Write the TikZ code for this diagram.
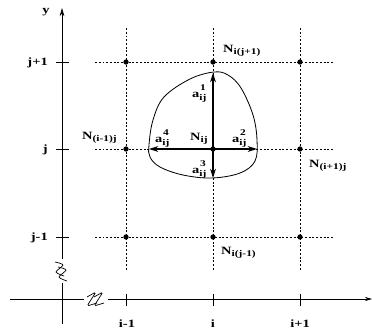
\documentclass[tikz,border=0pt]{standalone}
\usepackage{fontspec}
\setmainfont{Liberation Serif}[FakeStretch=1.3]
\usetikzlibrary{arrows.meta, positioning}
\newcommand{\Nlab}[1]{N\raisebox{-0.45ex}{\fontsize{7.5}{8}\selectfont #1}}
\newcommand{\alab}[1]{a\raisebox{-0.6ex}{\fontsize{7.5}{7}\selectfont\shortstack{#1\\ij}}}

\begin{document}
\begin{tikzpicture}[x=0.03cm, y=-0.03cm, >=Stealth,
    font=\fontsize{9.5}{10}\selectfont\bfseries,
    dot/.style={circle, fill, inner sep=0pt, minimum size=4.5pt},
    gridline/.style={dash pattern=on 1.6pt off 1.6pt, line width=0.6pt},
    axis/.style={line width=0.6pt},
    vec/.style={line width=0.9pt, -{Stealth[length=8pt, width=5pt]}},
    lbl/.style={inner sep=0pt}]
  \useasboundingbox (0,0) rectangle (372,333);
  \coordinate (y0) at (62,324);
  \coordinate (y1) at (62,283);
  \coordinate (y2) at (62,259);
  \coordinate (y3) at (62,8);
  \coordinate (x0) at (10,299);
  \coordinate (x1) at (84,299);
  \coordinate (x2) at (108,299);
  \coordinate (x3) at (372,299);
  \draw[axis] (y0) -- (y1);
  \draw[axis, -{Stealth[length=7pt, width=4pt]}] (y2) -- (y3);
  \draw[axis] (x0) -- (x1);
  \draw[axis, -{Stealth[length=6pt, width=3.5pt]}] (x2) -- (x3);
  \draw[axis] plot[smooth] coordinates {(55,262) (63,265) (56,272) (64,276)};
  \draw[axis] plot[smooth] coordinates {(58,267) (66,270) (59,277) (67,281)};
  \draw[axis, rounded corners=1.5pt] (87,297) -- (96,292) -- (87,306) -- (97,303);
  \draw[axis, rounded corners=1.5pt] (94,297) -- (103,292) -- (94,306) -- (104,303);
  \draw[axis] (56,62) -- (69,62);
  \draw[axis] (56,149) -- (69,149);
  \draw[axis] (56,237) -- (69,237);
  \draw[axis] (126,294) -- (126,306);
  \draw[axis] (213,294) -- (213,306);
  \draw[axis] (300,294) -- (300,306);
  \node[lbl] (ylab) at (46,12) {y};
  \node[lbl, anchor=base east] (jp1) at (48,65) {j+1};
  \node[lbl, anchor=base east] (j) at (48,152) {j};
  \node[lbl, anchor=base east] (jm1) at (48,240) {j-1};
  \node[lbl, anchor=base] (im1) at (127,327) {i-1};
  \node[lbl, anchor=base] (i) at (213,327) {i};
  \node[lbl, anchor=base] (ip1) at (300,327) {i+1};
  \coordinate (h1l) at (95,62);
  \coordinate (h1r) at (333,62);
  \coordinate (h2l) at (95,149);
  \coordinate (h2r) at (333,149);
  \coordinate (h3l) at (95,237);
  \coordinate (h3r) at (333,237);
  \coordinate (v1t) at (126,28);
  \coordinate (v1b) at (126,270);
  \coordinate (v2t) at (213,28);
  \coordinate (v2b) at (213,270);
  \coordinate (v3t) at (300,28);
  \coordinate (v3b) at (300,270);
  \draw[gridline] (h1l) -- (h1r);
  \draw[gridline] (h2l) -- (h2r);
  \draw[gridline] (h3l) -- (h3r);
  \draw[gridline] (v1t) -- (v1b);
  \draw[gridline] (v2t) -- (v2b);
  \draw[gridline] (v3t) -- (v3b);
  \draw[line width=0.7pt] plot[smooth cycle, tension=0.6] coordinates {(214,72) (228,75) (241,88) (253,115) (257,140) (255,161) (240,173) (212,178) (183,175) (160,167) (150,157) (149,145) (153,120) (164,97) (190,79)};
  \node[dot] (NW) at (126,62) {};
  \node[dot] (N) at (213,62) {};
  \node[dot] (NE) at (300,62) {};
  \node[dot] (W) at (126,149) {};
  \node[dot] (C) at (213,149) {};
  \node[dot] (E) at (300,149) {};
  \node[dot] (SW) at (126,237) {};
  \node[dot] (S) at (213,237) {};
  \node[dot] (SE) at (300,237) {};
  \coordinate (t1) at (213,73);
  \coordinate (t2) at (257,149);
  \coordinate (t3) at (213,178);
  \coordinate (t4) at (149,149);
  \draw[vec] (C.center) -- (t1);
  \draw[vec] (C.center) -- (t2);
  \draw[vec] (C.center) -- (t3);
  \draw[vec] (C.center) -- (t4);
  \node[lbl, anchor=base west] (Nn) at (223,52) {\Nlab{i(j+1)}};
  \node[lbl, anchor=base west] (Nw) at (82,139) {\Nlab{(i-1)j}};
  \node[lbl, anchor=base west] (Ne) at (309,167) {\Nlab{(i+1)j}};
  \node[lbl, anchor=base west] (Ns) at (221,254) {\Nlab{i(j-1)}};
  \node[lbl, anchor=base west] (Nc) at (190,140) {\Nlab{ij}};
  \node[lbl, anchor=base west] (a1) at (192,97) {\alab{1}};
  \node[lbl, anchor=base west] (a2) at (232,142) {\alab{2}};
  \node[lbl, anchor=base west] (a3) at (192,173) {\alab{3}};
  \node[lbl, anchor=base west] (a4) at (155,142) {\alab{4}};
\end{tikzpicture}
\end{document}
